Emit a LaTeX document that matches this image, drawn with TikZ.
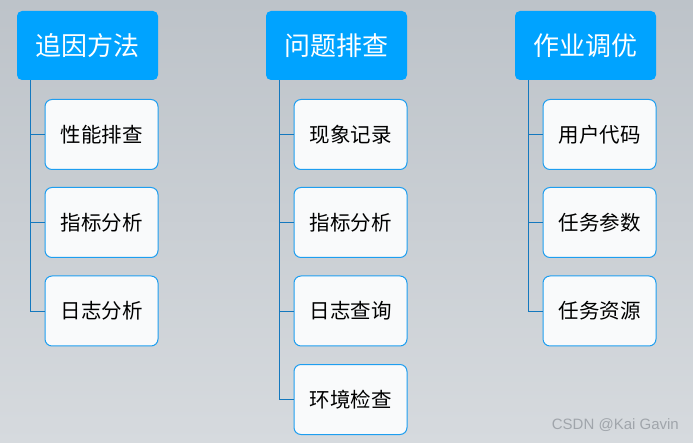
\documentclass[tikz,border=0pt]{standalone}
\usepackage{fontspec}
\newfontfamily\cjk{Noto Sans CJK SC}
\setsansfont{Liberation Sans}
\definecolor{bgtop}{RGB}{189,195,201}
\definecolor{bgbot}{RGB}{214,218,222}
\definecolor{headblue}{RGB}{0,163,255}
\definecolor{linkblue}{RGB}{20,120,190}
\definecolor{childborder}{RGB}{30,158,240}
\definecolor{childfill}{RGB}{249,250,251}
\definecolor{wm}{RGB}{160,165,171}
\begin{document}
\begin{tikzpicture}[x=1pt,y=-1pt,
  headbox/.style={fill=headblue,draw=none,rounded corners=5pt,minimum width=141pt,minimum height=69pt,inner sep=0pt,text=white,font=\cjk\fontsize{26}{29}\selectfont},
  childbox/.style={fill=childfill,draw=childborder,line width=1pt,rounded corners=7pt,minimum width=113pt,minimum height=70pt,inner sep=0pt,text=black,font=\cjk\fontsize{20.5}{24}\selectfont},
  link/.style={draw=linkblue,line width=0.9pt}]
\shade[top color=bgtop,bottom color=bgbot] (0,0) rectangle (693,443);
\useasboundingbox (0,0) rectangle (693,443);
% headers
\node[headbox] (h1) at (87.5,45.5) {追因方法};
\node[headbox] (h2) at (336.5,45.5) {问题排查};
\node[headbox] (h3) at (585.5,45.5) {作业调优};
% column 1
\node[childbox] (a1) at (101.5,134.5) {性能排查};
\node[childbox] (a2) at (101.5,222.5) {指标分析};
\node[childbox] (a3) at (101.5,311) {日志分析};
% column 2
\node[childbox] (b1) at (350.5,134.5) {现象记录};
\node[childbox] (b2) at (350.5,222.5) {指标分析};
\node[childbox] (b3) at (350.5,311) {日志查询};
\node[childbox] (b4) at (350.5,399.5) {环境检查};
% column 3
\node[childbox] (c1) at (599.5,134.5) {用户代码};
\node[childbox] (c2) at (599.5,222.5) {任务参数};
\node[childbox] (c3) at (599.5,311) {任务资源};
% connectors
\coordinate (t1) at ([xshift=14pt]h1.south west);
\coordinate (t2) at ([xshift=14pt]h2.south west);
\coordinate (t3) at ([xshift=14pt]h3.south west);
\draw[link] (t1) |- (a3.west);
\draw[link] (t1) |- (a2.west);
\draw[link] (t1) |- (a1.west);
\draw[link] (t2) |- (b4.west);
\draw[link] (t2) |- (b3.west);
\draw[link] (t2) |- (b2.west);
\draw[link] (t2) |- (b1.west);
\draw[link] (t3) |- (c3.west);
\draw[link] (t3) |- (c2.west);
\draw[link] (t3) |- (c1.west);
% watermark
\node[anchor=east,text=wm,font=\sffamily\fontsize{15}{18}\selectfont,inner sep=0pt] (wmk) at (679,425) {CSDN @Kai Gavin};
\end{tikzpicture}
\end{document}
